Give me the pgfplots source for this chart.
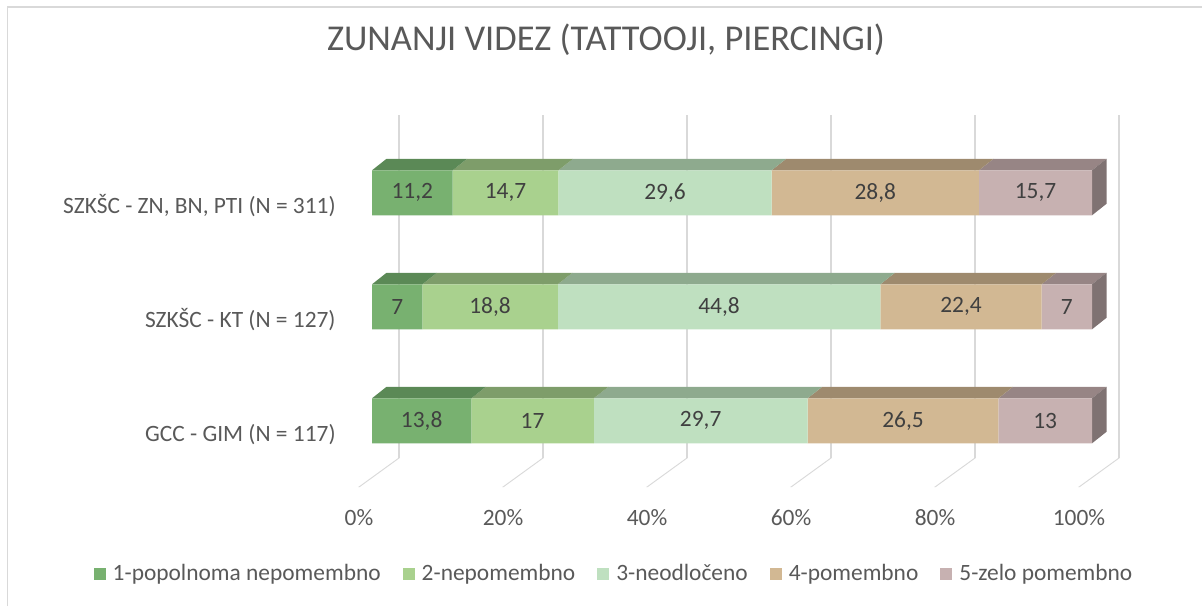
\documentclass[border=0pt]{standalone}
\usepackage{fontspec}
\setmainfont{Carlito}
\usepackage{pgfplots}
\usepackage{pgfplotstable}
\pgfplotsset{compat=1.18}

\definecolor{fa}{HTML}{78B170}
\definecolor{fb}{HTML}{A9D18E}
\definecolor{fc}{HTML}{BFE0C0}
\definecolor{fd}{HTML}{D2B893}
\definecolor{fe}{HTML}{C7B1B1}
\definecolor{ta}{HTML}{5B8956}
\definecolor{tb}{HTML}{7E9D6A}
\definecolor{tc}{HTML}{8EAA8E}
\definecolor{td}{HTML}{9E8A6E}
\definecolor{te}{HTML}{978585}
\definecolor{side}{HTML}{7F7272}
\definecolor{gridcol}{HTML}{D9D9D9}
\definecolor{tickgray}{HTML}{595959}
\definecolor{lbltext}{HTML}{404040}

\newcommand\lblfont{\fontsize{11.7pt}{14pt}\selectfont}
\newcommand\titlefont{\fontsize{18.2pt}{22pt}\selectfont}

% rows: 0 = GCC - GIM, 1 = SZKSC - KT, 2 = SZKSC - ZN, BN, PTI
\pgfplotstableread{
pos s1 s2 s3 s4 s5
0 13.8 17 29.7 26.5 13
1 7 18.8 44.8 22.4 7
2 11.2 14.7 29.6 28.8 15.7
}\data

\pgfplotsset{
  geom/.style={x=3.6pt, y=57pt, xmin=-51.6667, xmax=115.4167,
    ymin=-0.8526, ymax=3.6912, at={(0pt,44pt)}, anchor=south west, clip=false},
  topface/.style={geom, hide axis, xbar stacked, restrict y to domain=#1,
    every axis plot/.append style={bar width=5.75pt, bar shift=14.125pt, draw=none}},
  lbl/.style={draw=none, mark=none, nodes near coords, point meta=explicit,
    nodes near coords style={anchor=center, font=\lblfont, text=lbltext}},
  sq/.style={legend image code/.code={\fill[##1] (0pt,-3pt) rectangle (6pt,3pt);}},
  gridax/.style={x=3.6pt, xmin=0, xmax=100, anchor=south west,
    axis line style={draw=none}, major tick length=0pt,
    xtick={0,20,40,60,80,100}, xticklabels={}, xticklabel style={opacity=0},
    ytick=\empty,
    xmajorgrids, grid style={gridcol, line width=0.8pt}},
}

\begin{document}
\begin{tikzpicture}
\path[use as bounding box] (0pt,0pt) rectangle (601.5pt,303pt);
\draw[gridcol, line width=0.8pt] (3.65pt,0pt) -- (3.65pt,299.35pt) -- (601pt,299.35pt);

% back wall grid
\begin{axis}[gridax, y=57pt, ymin=-0.32632, ymax=2.68246, at={(199.5pt,74pt)}]
\end{axis}
% floor grid
\begin{scope}[transform canvas={cm={1,0,1.37931,1,(-102.069pt,0pt)}}]
\begin{axis}[gridax, y=1pt, ymin=0, ymax=14.5, at={(199.5pt,59.5pt)}]
\end{axis}
\end{scope}

% top faces
\begin{scope}[transform canvas={cm={1,0,1.26087,1,(-130.94pt,0pt)}}]
\begin{axis}[topface=-0.5:0.5]
\addplot[fill=ta] table[x=s1,y=pos]{\data};
\addplot[fill=tb] table[x=s2,y=pos]{\data};
\addplot[fill=tc] table[x=s3,y=pos]{\data};
\addplot[fill=td] table[x=s4,y=pos]{\data};
\addplot[fill=te] table[x=s5,y=pos]{\data};
\end{axis}
\end{scope}
\begin{scope}[transform canvas={cm={1,0,1.26087,1,(-202.81pt,0pt)}}]
\begin{axis}[topface=0.5:1.5]
\addplot[fill=ta] table[x=s1,y=pos]{\data};
\addplot[fill=tb] table[x=s2,y=pos]{\data};
\addplot[fill=tc] table[x=s3,y=pos]{\data};
\addplot[fill=td] table[x=s4,y=pos]{\data};
\addplot[fill=te] table[x=s5,y=pos]{\data};
\end{axis}
\end{scope}
\begin{scope}[transform canvas={cm={1,0,1.26087,1,(-274.68pt,0pt)}}]
\begin{axis}[topface=1.5:2.5]
\addplot[fill=ta] table[x=s1,y=pos]{\data};
\addplot[fill=tb] table[x=s2,y=pos]{\data};
\addplot[fill=tc] table[x=s3,y=pos]{\data};
\addplot[fill=td] table[x=s4,y=pos]{\data};
\addplot[fill=te] table[x=s5,y=pos]{\data};
\end{axis}
\end{scope}

% right side faces
\begin{scope}[transform canvas={cm={1,0.79310,0,1,(0pt,-433.03pt)}}]
\begin{axis}[geom, hide axis, xbar stacked, bar width=22.5pt]
\addplot[draw=none, fill=none] table[x=s1,y=pos]{\data};
\addplot[draw=none, fill=none] table[x=s2,y=pos]{\data};
\addplot[draw=none, fill=none] table[x=s3,y=pos]{\data};
\addplot[draw=none, fill=none] table[x=s4,y=pos]{\data};
\addplot[draw=none, fill=none] table[x=s5,y=pos]{\data};
\addplot[draw=none, fill=side] table[x expr=2.01389,y=pos]{\data};
\end{axis}
\end{scope}

% front faces, ticks, title, legend
\begin{axis}[geom, xbar stacked, bar width=22.5pt,
  axis line style={draw=none}, major tick length=0pt,
  /pgf/number format/assume math mode=true,
  xtick={0,20,40,60,80,100},
  xticklabels={0\%,20\%,40\%,60\%,80\%,100\%},
  ytick={0,1,2},
  yticklabels={{GCC - GIM (N = 117)},{SZKŠC - KT (N = 127)},{SZKŠC - ZN, BN, PTI (N = 311)}},
  ticklabel style={font=\lblfont, text=tickgray, inner sep=0pt},
  xticklabel style={anchor=base, xshift=-6.5pt, yshift=-3.85pt},
  yticklabel style={anchor=base east, xshift=168pt, yshift=-10.25pt},
  title={ZUNANJI VIDEZ (TATTOOJI, PIERCINGI)},
  title style={at={(0.50374,0.87896)}, anchor=base, font=\titlefont, text=tickgray, inner sep=0pt},
  legend columns=5,
  legend style={at={(0.5096,-0.1081)}, anchor=center, draw=none, fill=none,
    font=\lblfont, text=tickgray, nodes={inner sep=0pt}, column sep=3.5pt,
    /tikz/every even column/.append style={column sep=11pt}},
]
\addplot[fill=fa, draw=none, sq] table[x=s1,y=pos]{\data};
\addplot[fill=fb, draw=none, sq] table[x=s2,y=pos]{\data};
\addplot[fill=fc, draw=none, sq] table[x=s3,y=pos]{\data};
\addplot[fill=fd, draw=none, sq] table[x=s4,y=pos]{\data};
\addplot[fill=fe, draw=none, sq] table[x=s5,y=pos]{\data};
\legend{1-popolnoma nepomembno, 2-nepomembno, 3-neodločeno, 4-pomembno, 5-zelo pomembno}
\end{axis}

% value labels
\begin{axis}[geom, hide axis,
  /pgf/number format/.cd, use comma, fixed, precision=1, assume math mode=true]
\addplot[lbl] table[x expr=\thisrow{s1}/2, y=pos, meta=s1]{\data};
\addplot[lbl] table[x expr=\thisrow{s1}+\thisrow{s2}/2, y=pos, meta=s2]{\data};
\addplot[lbl] table[x expr=\thisrow{s1}+\thisrow{s2}+\thisrow{s3}/2, y=pos, meta=s3]{\data};
\addplot[lbl] table[x expr=\thisrow{s1}+\thisrow{s2}+\thisrow{s3}+\thisrow{s4}/2, y=pos, meta=s4]{\data};
\addplot[lbl] table[x expr=\thisrow{s1}+\thisrow{s2}+\thisrow{s3}+\thisrow{s4}+\thisrow{s5}/2, y=pos, meta=s5]{\data};
\end{axis}
\end{tikzpicture}
\end{document}
